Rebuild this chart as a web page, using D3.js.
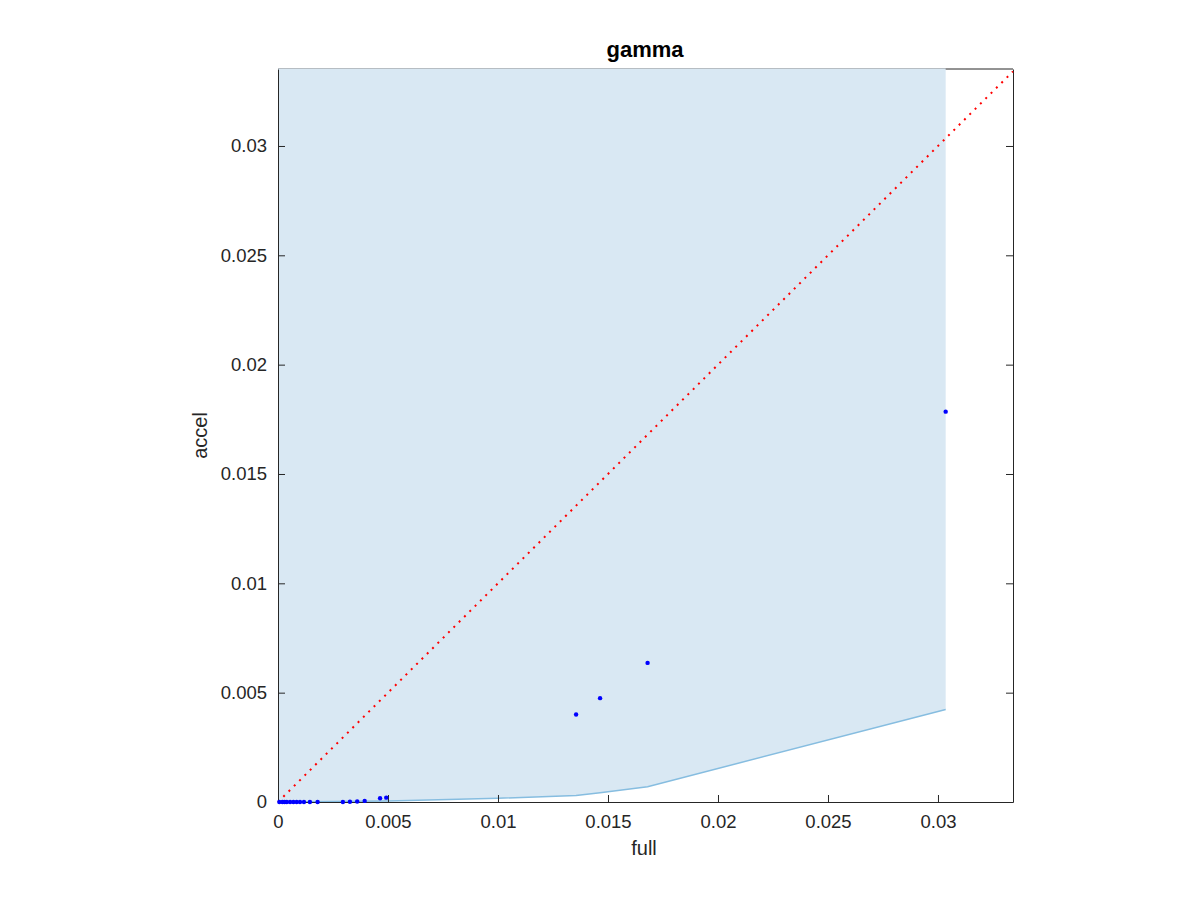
<!DOCTYPE html>
<html><head><meta charset="utf-8">
<script src="https://cdn.jsdelivr.net/npm/d3@7"></script>
<style>body{margin:0;background:#fff}svg{display:block}text{font-family:"Liberation Sans",Arial,sans-serif}</style>
</head><body><svg id="c" width="1200" height="900"></svg>
<script>
const pointsX = [0.00006,0.0002,0.0003,0.0004,0.00055,0.0007,0.00085,0.001,0.00118,0.00145,0.0018,0.00295,0.00327,0.0036,0.00394,0.00464,0.00492,0.01355,0.01464,0.0168,0.03035];
const pointsY = [0,0,0,0,0,0,0,0,0,0,0,0,0.00001,0.00002,0.00005,0.00017,0.0002,0.0040,0.00475,0.00636,0.01785];
const boundX = [0,0.005,0.01,0.01355,0.01464,0.0168,0.03035];
const boundY = [0,0.00005,0.00017,0.0003,0.00042,0.0007,0.00423];
const xTicks = [0,0.005,0.01,0.015,0.02,0.025,0.03];
const yTicks = [0,0.005,0.01,0.015,0.02,0.025,0.03];
const xMax = 0.03341, yMax = 0.03352;

const svg = d3.select("#c");
const L=278,R=1013,T=69,B=802;
const x = d3.scaleLinear().domain([0,xMax]).range([L,R]);
const y = d3.scaleLinear().domain([0,yMax]).range([B,T]);
const fmt = d => d===0?"0":String(+d.toFixed(3));
const ax = "#262626";

svg.append("line").attr("x1",L).attr("x2",R).attr("y1",T).attr("y2",T).attr("stroke",ax).attr("stroke-width",1);

const poly = boundX.map((d,i)=>[x(d),y(boundY[i])]);
poly.push([x(boundX[boundX.length-1]),T-0.5],[x(0),T-0.5]);
svg.append("path").attr("d",d3.line()(poly)+"Z").attr("fill","#d9e8f3");
svg.append("path").attr("d",d3.line().x(d=>x(d)).y((d,i)=>y(boundY[i]))(boundX))
  .attr("fill","none").attr("stroke","#86bde0").attr("stroke-width",1.5);

const gx = svg.append("g").attr("transform",`translate(0,${B})`).call(d3.axisBottom(x).tickValues(xTicks).tickFormat(fmt).tickSizeInner(-7).tickSizeOuter(0).tickPadding(13));
const gy = svg.append("g").attr("transform",`translate(${L},0)`).call(d3.axisLeft(y).tickValues(yTicks).tickFormat(fmt).tickSizeInner(-7).tickSizeOuter(0).tickPadding(11));
const gr = svg.append("g").attr("transform",`translate(${R},0)`).call(d3.axisRight(y).tickValues(yTicks).tickFormat("").tickSizeInner(-7).tickSizeOuter(0));
[gx,gy,gr].forEach(g=>{g.attr("font-size",null).attr("font-family",null);g.selectAll("path,line").attr("stroke",ax);g.selectAll("text").attr("fill",ax).style("font-size","18.5px");});

svg.append("line").attr("x1",x(0)).attr("y1",y(0)).attr("x2",x(Math.min(xMax,yMax))).attr("y2",y(Math.min(xMax,yMax)))
  .attr("stroke","#ff0000").attr("stroke-width",2).attr("stroke-dasharray","2,5.5");

svg.append("g").selectAll("circle").data(pointsX).join("circle")
  .attr("cx",d=>x(d)).attr("cy",(d,i)=>y(pointsY[i])).attr("r",2.2).attr("fill","#0000ff");

svg.append("text").attr("x",645).attr("y",57).attr("text-anchor","middle").style("font-size","22px").style("font-weight","bold").attr("fill","#000").text("gamma");
svg.append("text").attr("x",644).attr("y",855).attr("text-anchor","middle").style("font-size","20px").attr("fill",ax).text("full");
svg.append("text").attr("transform",`translate(207,${(T+B)/2}) rotate(-90)`).attr("text-anchor","middle").style("font-size","20px").attr("fill",ax).text("accel");
</script></body></html>
